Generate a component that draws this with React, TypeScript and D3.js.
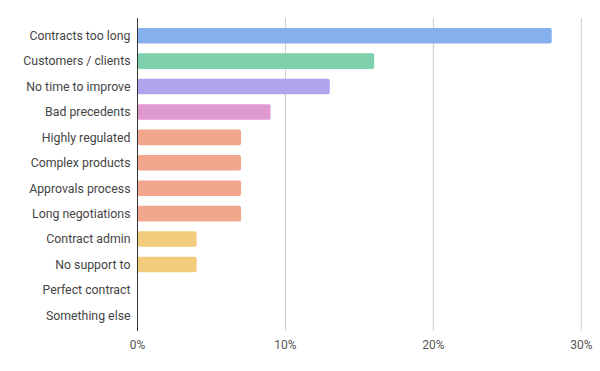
import React from "react";
import * as d3 from "d3";

const categories = [
  "Contracts too long",
  "Customers / clients",
  "No time to improve",
  "Bad precedents",
  "Highly regulated",
  "Complex products",
  "Approvals process",
  "Long negotiations",
  "Contract admin",
  "No support to",
  "Perfect contract",
  "Something else",
];
const values = [28, 16, 13, 9, 7, 7, 7, 7, 4, 4, 0, 0];
const barColors = [
  "#84b0ec",
  "#7ed0ac",
  "#b0a4ee",
  "#e199d1",
  "#f2a68c",
  "#f2a68c",
  "#f2a68c",
  "#f2a68c",
  "#f2cc7c",
  "#f2cc7c",
  "#f2cc7c",
  "#f2cc7c",
];
const ticks = [0, 10, 20, 30];

const width = 600;
const height = 371;

export default function App() {
  const x = d3.scaleLinear().domain([0, 30]).range([137.5, 581.3]);
  const y = d3
    .scaleBand()
    .domain(categories)
    .range([23, 328])
    .paddingInner(0.39)
    .paddingOuter(0.195);

  return (
    <svg
      width={width}
      height={height}
      style={{ position: "absolute", left: 0, top: 0 }}
      fontFamily="Roboto, sans-serif"
    >
      <rect width={width} height={height} fill="#fff" />
      {/* gridlines */}
      {ticks.slice(1).map((t) => (
        <line
          key={t}
          x1={x(t)}
          x2={x(t)}
          y1={18}
          y2={331}
          stroke="#cccccc"
          strokeWidth={1}
        />
      ))}
      {/* bars */}
      {categories.map((c, i) =>
        values[i] > 0 ? (
          <rect
            key={c}
            x={x(0)}
            y={y(c)}
            width={x(values[i]) - x(0)}
            height={y.bandwidth()}
            rx={2}
            fill={barColors[i]}
          />
        ) : null
      )}
      {/* zero axis */}
      <line x1={x(0)} x2={x(0)} y1={18} y2={331} stroke="#333" strokeWidth={1} />
      {/* category labels */}
      {categories.map((c) => (
        <text
          key={c}
          x={130.5}
          y={(y(c) as number) + y.bandwidth() / 2}
          dy="0.35em"
          textAnchor="end"
          fontSize={12.3}
          fill="#444"
        >
          {c}
        </text>
      ))}
      {/* tick labels */}
      {ticks.map((t) => (
        <text
          key={t}
          x={x(t)}
          y={349}
          textAnchor="middle"
          fontSize={12}
          fill="#555"
        >
          {t + "%"}
        </text>
      ))}
    </svg>
  );
}
